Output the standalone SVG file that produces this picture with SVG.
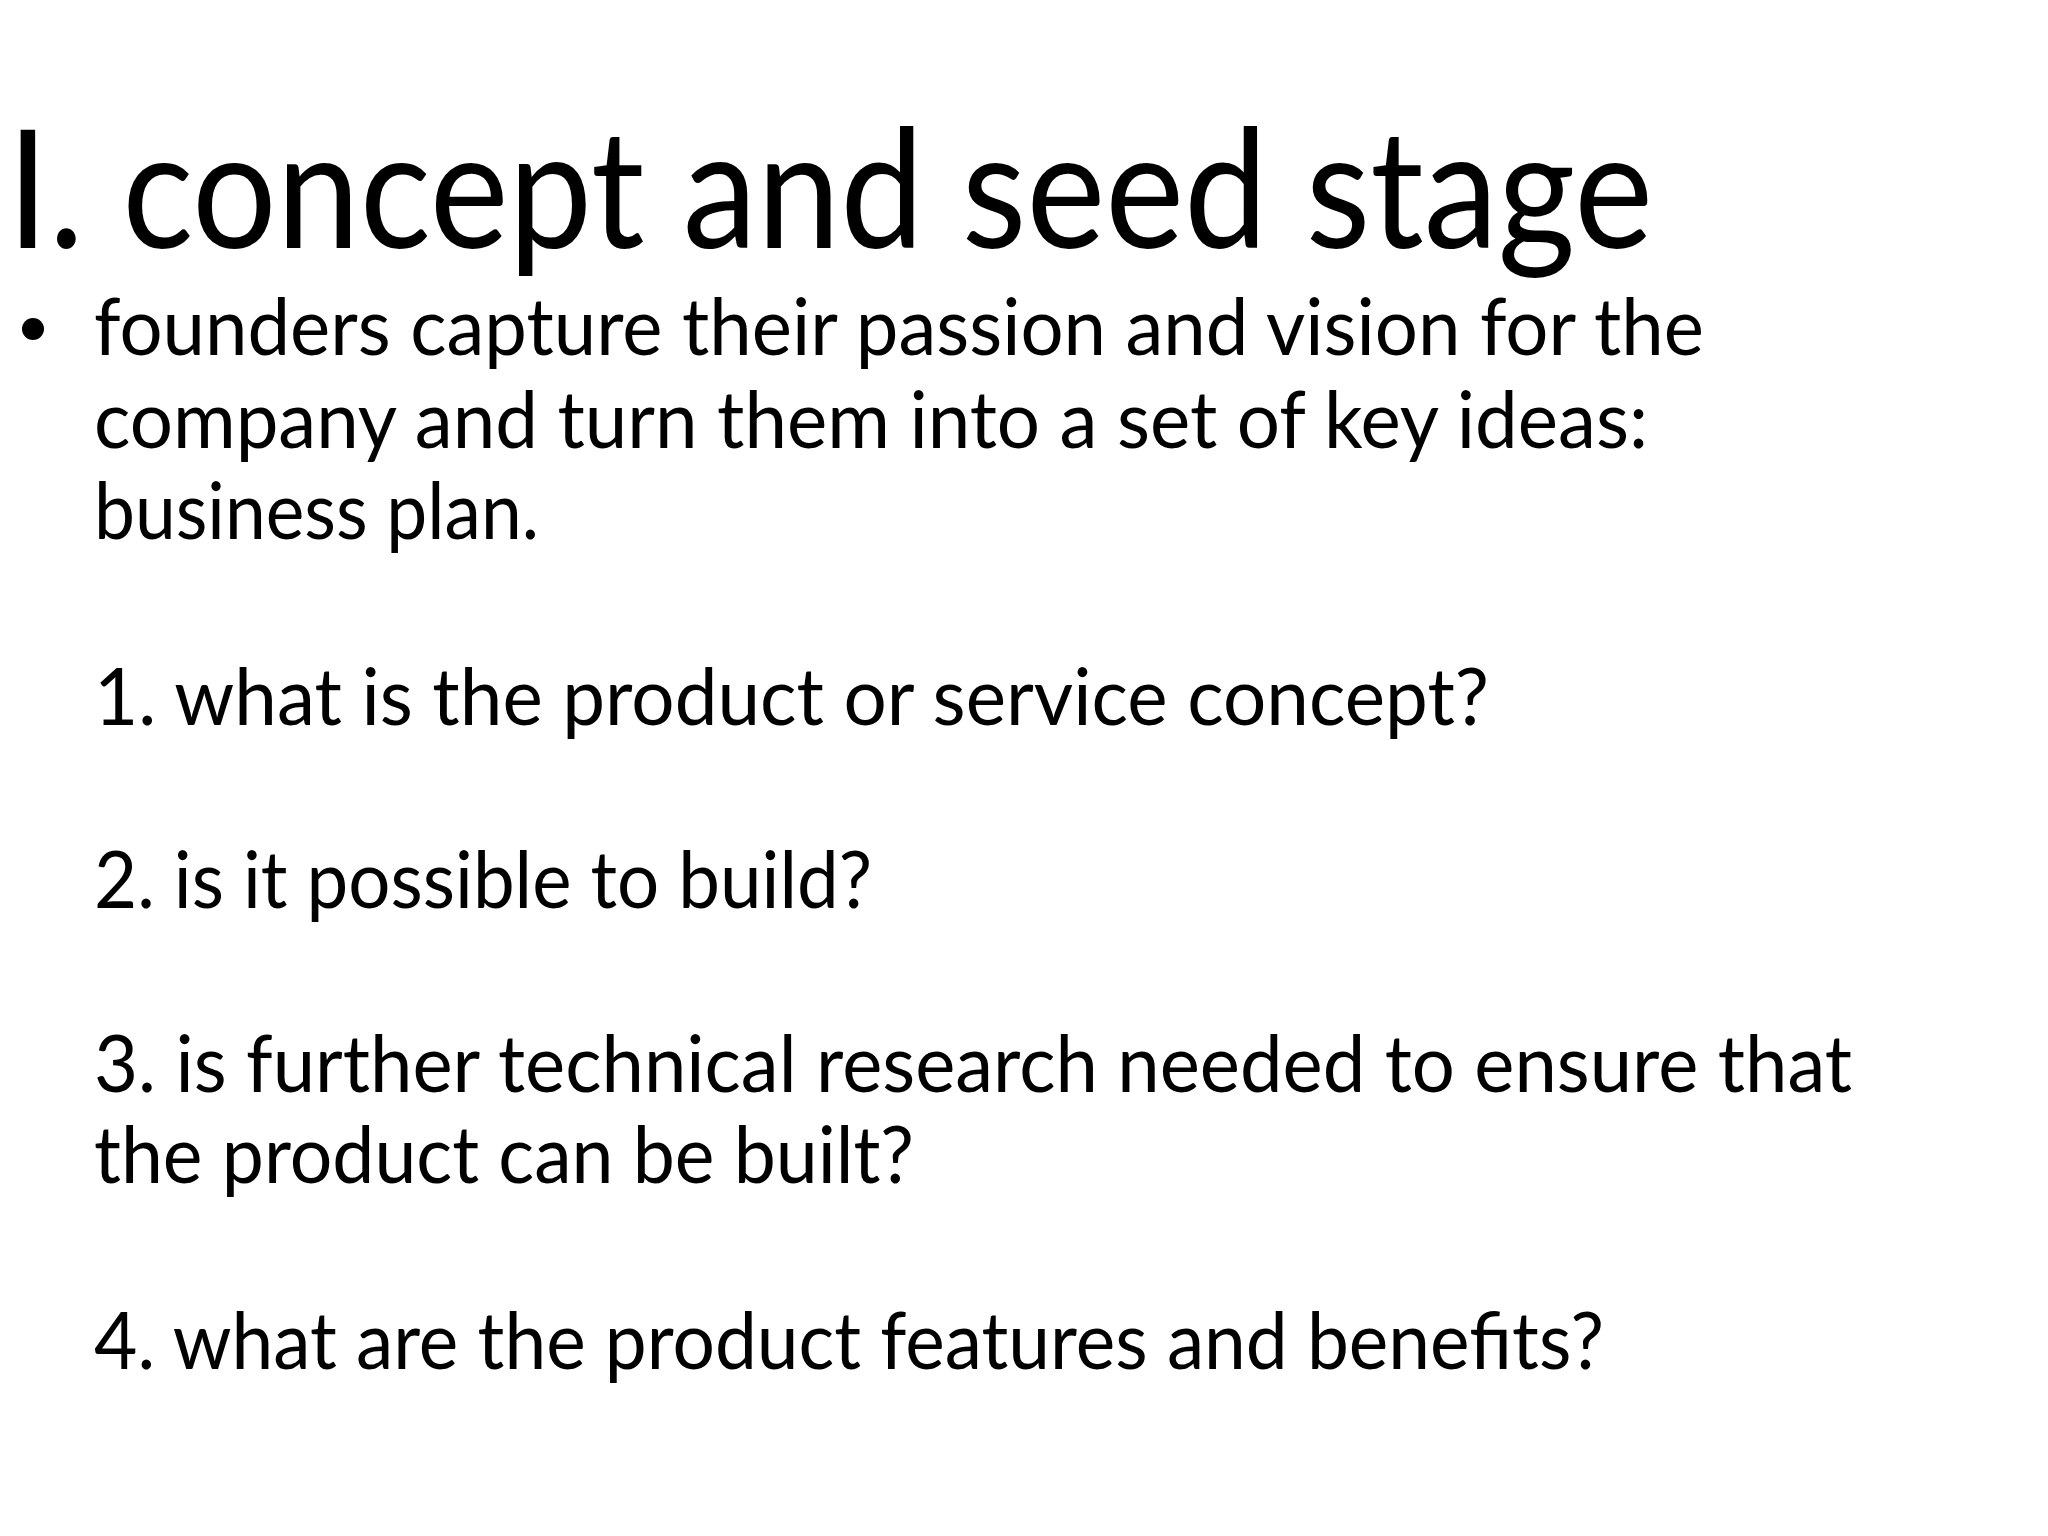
<svg xmlns="http://www.w3.org/2000/svg" width="2048" height="1536" viewBox="0 0 2048 1536">
<style>
text{font-family:Lato,"Open Sans","Liberation Sans",sans-serif;fill:#000}
.b{font-size:80px}
</style>
<rect width="2048" height="1536" fill="#fff"/>
<text x="7" y="248" font-size="165" textLength="1646" lengthAdjust="spacingAndGlyphs">I. concept and seed stage</text>
<circle cx="33" cy="329" r="11" fill="#000"/>
<text class="b" x="94" y="355" textLength="1610" lengthAdjust="spacingAndGlyphs">founders capture their passion and vision for the</text>
<text class="b" x="94" y="448" textLength="1554" lengthAdjust="spacingAndGlyphs">company and turn them into a set of key ideas:</text>
<text class="b" x="94" y="539" textLength="445" lengthAdjust="spacingAndGlyphs">business plan.</text>
<text class="b" x="94" y="725" textLength="1395" lengthAdjust="spacingAndGlyphs">1. what is the product or service concept?</text>
<text class="b" x="94" y="908" textLength="778" lengthAdjust="spacingAndGlyphs">2. is it possible to build?</text>
<text class="b" x="94" y="1092" textLength="1758" lengthAdjust="spacingAndGlyphs">3. is further technical research needed to ensure that</text>
<text class="b" x="94" y="1183" textLength="820" lengthAdjust="spacingAndGlyphs">the product can be built?</text>
<text class="b" x="94" y="1369" textLength="1510" lengthAdjust="spacingAndGlyphs">4. what are the product features and benefits?</text>
</svg>
